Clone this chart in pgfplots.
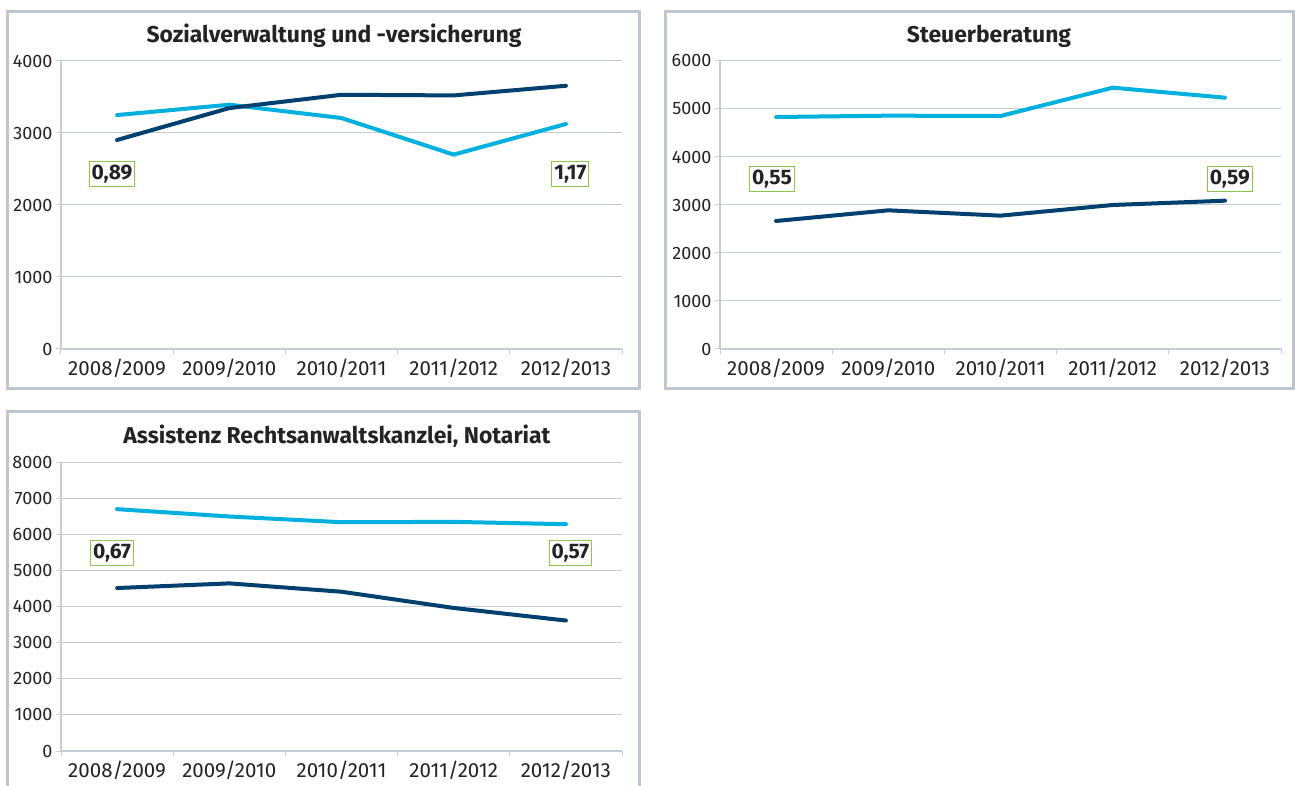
\documentclass[border=0pt]{standalone}
\usepackage{fontspec}
\setmainfont{Fira Sans}
\usepackage{pgfplots}
\pgfplotsset{compat=1.18}
\definecolor{lblue}{RGB}{0,176,222}
\definecolor{navy}{RGB}{0,64,110}
\definecolor{gridc}{RGB}{196,205,211}
\definecolor{framec}{RGB}{190,199,205}
\definecolor{lgreen}{RGB}{140,198,70}
\definecolor{txt}{RGB}{35,35,35}

\pgfplotsset{
 panel/.style={
  scale only axis, width=561pt, height=288pt,
  xmin=-0.5, xmax=4.5, ymin=0,
  axis lines*=left,
  axis line style={draw=gridc, line width=1.2pt},
  xtick={0,1,2,3,4},
  xticklabels={2008/2009,2009/2010,2010/2011,2011/2012,2012/2013},
  major x tick style={draw=none},
  minor xtick={-0.5,0.5,1.5,2.5,3.5,4.5},
  minor x tick style={draw=gridc, line width=1pt},
  minor tick length=5pt, major tick length=5pt,
  tick align=outside,
  y tick style={draw=gridc, line width=1pt},
  ymajorgrids, major grid style={draw=gridc, line width=1pt},
  yticklabel style={font=\fontsize{18}{20}\selectfont, text=txt},
  xticklabel style={font=\fontsize{20.5}{22}\selectfont, text=txt, yshift=-1.5pt},
  /pgf/number format/assume math mode=true,
  /pgf/number format/1000 sep={},
  every axis plot/.append style={line width=4pt, line join=round, line cap=round, mark=none},
 },
}
\tikzset{
 lab/.style={draw=lgreen, line width=1pt, fill=white, inner xsep=2.3pt, inner ysep=3.5pt,
   font=\fontsize{21}{23}\selectfont\bfseries, text=txt},
 ttl/.style={anchor=base, font=\fontsize{22.9}{26}\selectfont\bfseries, text=txt},
}

\begin{document}
\begin{tikzpicture}[x=1pt,y=1pt]
\useasboundingbox (0,0) rectangle (1295,785);
\clip (0,0) rectangle (1295,785);
% frames
\draw[framec, line width=3pt] (7,396) rectangle (639,773);
\draw[framec, line width=3pt] (665,396) rectangle (1293,773);
\draw[framec, line width=3pt] (7,-10) rectangle (639,373);
% titles
\node[ttl] at (334,742) {Sozialverwaltung und -versicherung};
\node[ttl] at (989,742) {Steuerberatung};
\node[ttl] at (337,341) {Assistenz Rechtsanwaltskanzlei, Notariat};

% Panel 1
\begin{axis}[panel, at={(61pt,436pt)}, anchor=south west, ymax=4000, ytick={0,1000,2000,3000,4000}]
\addplot[lblue] coordinates {(0,3249) (1,3393) (2,3208) (3,2700) (4,3125)};
\addplot[navy] coordinates {(0,2903) (1,3346) (2,3531) (3,3522) (4,3656)};
\node[lab] at (axis cs:-0.045,2431) {0,89};
\node[lab] at (axis cs:4.04,2431) {1,17};
\end{axis}

% Panel 2
\begin{axis}[panel, at={(720pt,436pt)}, anchor=south west, ymax=6000, ytick={0,1000,...,6000}]
\addplot[lblue] coordinates {(0,4833) (1,4861) (2,4854) (3,5444) (4,5236)};
\addplot[navy] coordinates {(0,2667) (1,2889) (2,2778) (3,3000) (4,3090)};
\node[lab] at (axis cs:-0.037,3542) {0,55};
\node[lab] at (axis cs:4.045,3542) {0,59};
\end{axis}

% Panel 3
\begin{axis}[panel, at={(61pt,34pt)}, anchor=south west, height=289pt, ymax=8000, ytick={0,1000,...,8000}]
\addplot[lblue] coordinates {(0,6695) (1,6492) (2,6333) (3,6343) (4,6278)};
\addplot[navy] coordinates {(0,4511) (1,4640) (2,4409) (3,3960) (4,3612)};
\node[lab] at (axis cs:-0.045,5481) {0,67};
\node[lab] at (axis cs:4.04,5481) {0,57};
\end{axis}
\end{tikzpicture}
\end{document}
